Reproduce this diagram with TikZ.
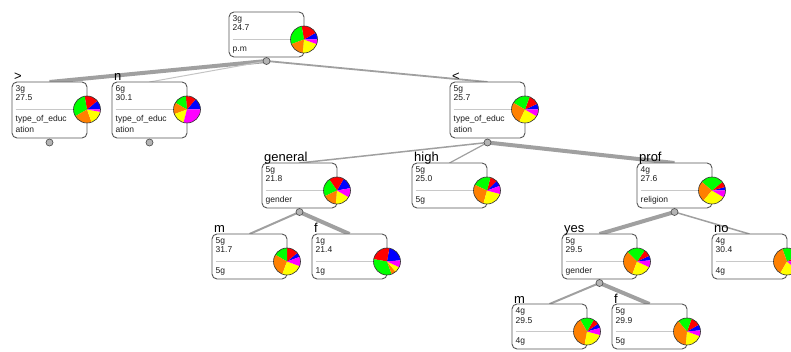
\documentclass[tikz,border=0pt]{standalone}
\usepackage{fontspec}
\setmainfont{Liberation Sans}
\usetikzlibrary{calc}

\definecolor{boxline}{HTML}{555555}
\definecolor{septone}{HTML}{C8C8C8}
\definecolor{edgegray}{HTML}{A0A0A0}
\definecolor{edgelight}{HTML}{C4C4C4}
\definecolor{jointfill}{HTML}{B4B4B4}
\definecolor{txt}{HTML}{1E1E1E}
\definecolor{pred}{HTML}{FF0000}
\definecolor{pblue}{HTML}{0000FF}
\definecolor{pgreen}{HTML}{00FF00}
\definecolor{porange}{HTML}{FF8000}
\definecolor{pyellow}{HTML}{FFFF00}
\definecolor{pmagenta}{HTML}{FF00FF}

\pgfdeclarelayer{background}
\pgfsetlayers{background,main}

\tikzset{
  tbox/.style={draw=boxline, fill=white, rounded corners=5pt, line width=0.9pt,
    minimum width=75pt, minimum height=#1, anchor=north west,
    inner sep=0pt, outer sep=0pt},
  tbox/.default=45pt,
  small/.style={inner sep=0pt, text=txt, font=\fontsize{8.5}{11.5}\selectfont,
    anchor=base west},
  lbl/.style={inner sep=0pt, text=black, font=\fontsize{13}{14}\selectfont,
    anchor=base west},
  sepline/.style={draw=septone, line width=1.2pt},
  joint/.style={circle, draw=boxline, fill=jointfill, line width=0.7pt,
    minimum size=7pt, inner sep=0pt},
  edge/.style={draw=edgegray, line width=#1},
  edge/.default=1.5pt,
  pierim/.style={draw=black!80, line width=0.6pt},
}

% #1 name, #2 left, #3 top, #4 height, #5 first line, #6 second line,
% #7 bottom text, #8 pie slices (start/end/colour), #9 branch label
\newcommand\treenode[9]{%
  \node[tbox=#4] (#1) at (#2,#3) {};
  \node[small] at ($(#1.north west)+(3.5,9.5)$) {#5};
  \node[small] at ($(#1.north west)+(3.5,19)$) {#6};
  \draw[sepline] ($(#1.north west)+(3.5,27.5)$) -- ($(#1.north east)+(-13,27.5)$);
  \node[small] at ($(#1.north west)+(3.5,39.5)$) {#7};
  \node[lbl] at ($(#1.north west)+(2,-1)$) {#9};
  \begin{scope}[shift={($(#1.north east)+(0,27.5)$)}]
    \foreach \a/\b/\c in {#8}
      \fill[\c] (0,0) -- (\a:13.5pt) arc[start angle=\a, end angle=\b, radius=13.5pt] -- cycle;
    \draw[pierim] (0,0) circle[radius=13.5pt];
  \end{scope}
}
% continuation line of a wrapped bottom text
\newcommand\wrapline[2]{\node[small] at ($(#1.north west)+(3.5,51)$) {#2};}

\begin{document}
\begin{tikzpicture}[x=1pt, y=-1pt]
\useasboundingbox (0,0) rectangle (791,352);

% root
\treenode{root}{229}{12}{45pt}{3g}{24.7}{p.m}
  {0/30/pblue,30/100/pred,100/200/pgreen,200/265/porange,265/340/pyellow,340/360/pmagenta}{}
\node[joint] (rootj) at ($(root.south)+(0,4)$) {};

% first level
\treenode{gt}{12}{82}{56pt}{3g}{27.5}{type\_of\_educ}
  {0/40/pblue,40/100/pred,100/210/pgreen,210/290/porange,290/350/pyellow,350/360/pmagenta}{>}
\wrapline{gt}{ation}
\node[joint] (gtj) at ($(gt.south)+(0,4.5)$) {};
\treenode{nn}{112}{82}{56pt}{6g}{30.1}{type\_of\_educ}
  {0/50/pblue,50/95/pred,95/150/pgreen,150/200/porange,200/255/pyellow,255/360/pmagenta}{n}
\wrapline{nn}{ation}
\node[joint] (nnj) at ($(nn.south)+(0,4.5)$) {};
\treenode{lt}{450}{82}{56pt}{5g}{25.7}{type\_of\_educ}
  {0/25/pblue,25/70/pred,70/150/pgreen,150/245/porange,245/330/pyellow,330/360/pmagenta}{<}
\wrapline{lt}{ation}
\node[joint] (ltj) at ($(lt.south)+(0,4.5)$) {};

% second level
\treenode{gen}{262}{163}{45pt}{5g}{21.8}{gender}
  {10/60/pblue,60/125/pred,125/205/pgreen,205/265/porange,265/330/pyellow,330/370/pmagenta}{general}
\node[joint] (genj) at ($(gen.south)+(0,4)$) {};
\treenode{high}{412}{163}{45pt}{5g}{25.0}{5g}
  {20/45/pblue,45/75/pred,75/155/pgreen,155/255/porange,255/345/pyellow,345/380/pmagenta}{high}
\treenode{prof}{637}{163}{45pt}{4g}{27.6}{religion}
  {0/15/pblue,15/40/pred,40/140/pgreen,140/230/porange,230/330/pyellow,330/360/pmagenta}{prof}
\node[joint] (profj) at ($(prof.south)+(0,4)$) {};

% third level
\treenode{gm}{212}{234}{45pt}{5g}{31.7}{5g}
  {20/40/pblue,40/90/pred,90/150/pgreen,150/250/porange,250/340/pyellow,340/380/pmagenta}{m}
\treenode{gf}{312}{234}{45pt}{1g}{21.4}{1g}
  {5/80/pblue,80/170/pred,170/290/pgreen,290/310/porange,310/335/pyellow,335/365/pmagenta}{f}
\treenode{yes}{562}{234}{45pt}{5g}{29.5}{gender}
  {5/25/pblue,25/55/pred,55/135/pgreen,135/250/porange,250/335/pyellow,335/365/pmagenta}{yes}
\node[joint] (yesj) at ($(yes.south)+(0,4)$) {};
\treenode{no}{712}{234}{45pt}{4g}{30.4}{4g}
  {0/10/pblue,10/30/pred,30/110/pgreen,110/240/porange,240/320/pyellow,320/360/pmagenta}{no}

% fourth level
\treenode{ym}{512}{304}{45pt}{4g}{29.5}{4g}
  {15/35/pblue,35/60/pred,60/120/pgreen,120/260/porange,260/345/pyellow,345/375/pmagenta}{m}
\treenode{yf}{612}{304}{45pt}{5g}{29.9}{5g}
  {5/30/pblue,30/70/pred,70/130/pgreen,130/265/porange,265/340/pyellow,340/365/pmagenta}{f}

% branches, drawn beneath the boxes
\begin{pgfonlayer}{background}
  \draw[edge=4pt] (rootj.center) -- (gt.north);
  \draw[edge=1pt, draw=edgelight] (rootj.center) -- (nn.north);
  \draw[edge=1.8pt] (rootj.center) -- (lt.north);
  \draw[edge=1.5pt] (ltj.center) -- (gen.north);
  \draw[edge=1.2pt] (ltj.center) -- (high.north);
  \draw[edge=4pt] (ltj.center) -- (prof.north);
  \draw[edge=2pt] (genj.center) -- (gm.north);
  \draw[edge=4pt] (genj.center) -- (gf.north);
  \draw[edge=4pt] (profj.center) -- (yes.north);
  \draw[edge=1.5pt] (profj.center) -- (no.north);
  \draw[edge=2pt] (yesj.center) -- (ym.north);
  \draw[edge=4pt] (yesj.center) -- (yf.north);
\end{pgfonlayer}
\end{tikzpicture}
\end{document}
